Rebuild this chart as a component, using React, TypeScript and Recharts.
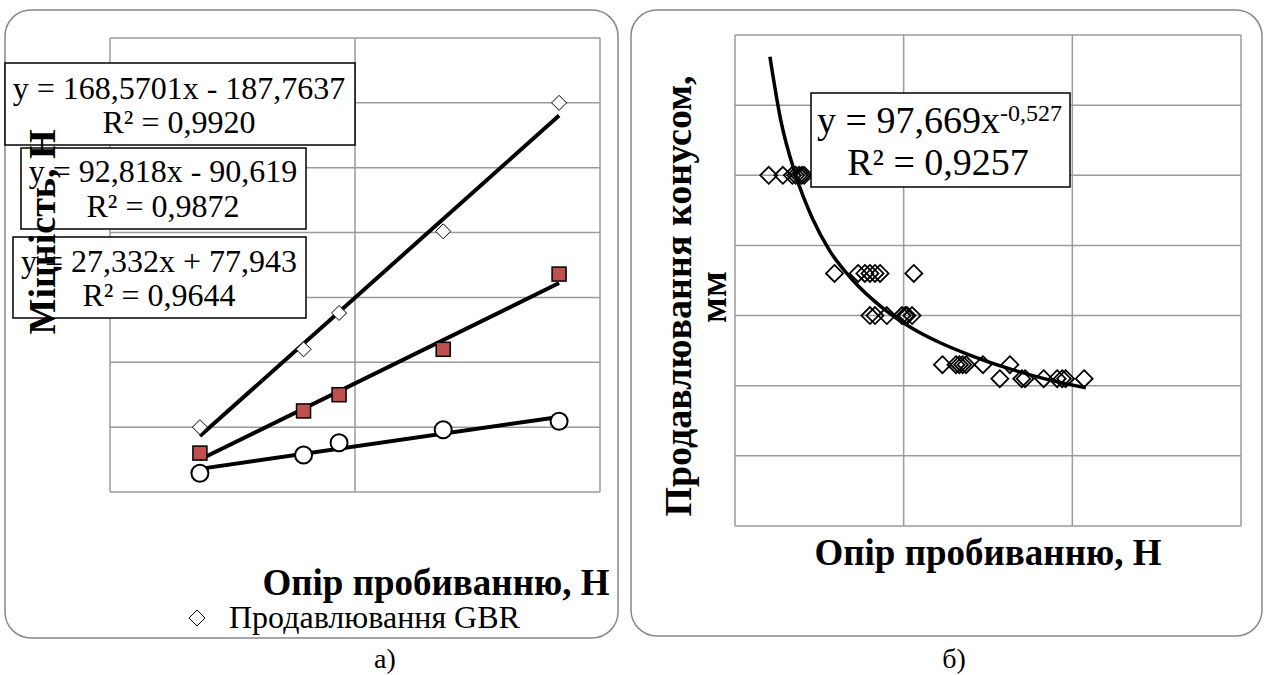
import React from "react";
import { CartesianGrid, ComposedChart, Line, Scatter, XAxis, YAxis } from "recharts";

const serif = '"Liberation Serif", "Times New Roman", serif';

// а) strength vs punching resistance
const strengthX = [3.67, 7.9, 9.35, 13.6, 18.33];
const gbrY = [500, 1100, 1380, 2010, 3000];
const redY = [300, 625, 750, 1100, 1680];
const circleY = [145, 285, 380, 480, 545];

// trend line ends (from the printed equations)
const trendX = [3.67, 18.33];
const gbrTrend = [430.9, 2902.1];
const redTrend = [250.0, 1610.7];
const circleTrend = [178.3, 578.9];

const leftXTicks = [0, 10, 20];
const leftYTicks = [0, 500, 1000, 1500, 2000, 2500, 3000, 3500];

// б) cone penetration vs punching resistance
const coneX = [
  2.0, 2.84, 3.4, 3.6, 3.8, 3.96, 4.1,
  5.9, 7.3, 7.7, 8.0, 8.3, 8.6, 10.6,
  8.0, 8.3, 9.0, 9.9, 10.1, 10.2, 10.5,
  12.3, 13.1, 13.3, 13.5, 13.7, 14.7, 16.3,
  15.7, 17.0, 17.2, 18.3, 19.1, 19.4, 19.6, 20.7,
];
const coneY = [
  50, 50, 50, 50, 50, 50, 50,
  36, 36, 36, 36, 36, 36, 36,
  30, 30, 30, 30, 30, 30, 30,
  23, 23, 23, 23, 23, 23, 23,
  21, 21, 21, 21, 21, 21, 21, 21,
];

// power trend curve
const curveX = [2.07, 2.7, 3.6, 4.6, 5.6, 7, 8.8, 10.5, 12.1, 14, 16.3, 18.5, 20.8];
const curveY = [66.9, 58, 50, 43.8, 39.3, 35, 31, 28.2, 26.2, 24.3, 22.4, 20.9, 19.7];

const rightXTicks = [0, 10, 20, 30];
const rightYTicks = [0, 10, 20, 30, 40, 50, 60, 70];

const pts = (xs: number[], ys: number[]) => xs.map((x, i) => ({ x, y: ys[i] }));

const diamond = (size: number, sw: number, fill: string) => (p: any) => {
  const h = size / 2;
  const { cx, cy } = p;
  return (
    <path
      d={`M${cx},${cy - h}L${cx + h},${cy}L${cx},${cy + h}L${cx - h},${cy}Z`}
      fill={fill}
      stroke="#000"
      strokeWidth={sw}
    />
  );
};

const square = (p: any) => (
  <rect x={p.cx - 7} y={p.cy - 7} width={14} height={14} fill="#C0504D" stroke="#000" strokeWidth={1.5} />
);

const circle = (p: any) => <circle cx={p.cx} cy={p.cy} r={8.5} fill="#fff" stroke="#000" strokeWidth={2} />;

const noTick = () => <g />;

const gridColor = "#9a9a9a";

const LeftChart = () => (
  <ComposedChart width={625} height={640} margin={{ top: 38, right: 25, bottom: 148, left: 110 }}>
    <CartesianGrid stroke={gridColor} strokeWidth={1.5} />
    <XAxis type="number" dataKey="x" domain={[0, 20]} ticks={leftXTicks} tick={noTick} tickLine={false} axisLine={false} height={0} />
    <YAxis type="number" dataKey="y" domain={[0, 3500]} ticks={leftYTicks} tick={noTick} tickLine={false} axisLine={false} width={0} />
    <Scatter data={pts(strengthX, gbrY)} shape={diamond(15, 1, "#fff")} isAnimationActive={false} />
    <Scatter data={pts(strengthX, redY)} shape={square} isAnimationActive={false} />
    <Scatter data={pts(strengthX, circleY)} shape={circle} isAnimationActive={false} />
    <Line data={pts(trendX, gbrTrend)} dataKey="y" type="linear" stroke="#000" strokeWidth={4} dot={false} isAnimationActive={false} />
    <Line data={pts(trendX, redTrend)} dataKey="y" type="linear" stroke="#000" strokeWidth={4} dot={false} isAnimationActive={false} />
    <Line data={pts(trendX, circleTrend)} dataKey="y" type="linear" stroke="#000" strokeWidth={4} dot={false} isAnimationActive={false} />
  </ComposedChart>
);

const RightChart = () => (
  <ComposedChart width={636} height={640} margin={{ top: 35, right: 25, bottom: 114, left: 105 }}>
    <CartesianGrid stroke={gridColor} strokeWidth={1.5} />
    <XAxis type="number" dataKey="x" domain={[0, 30]} ticks={rightXTicks} tick={noTick} tickLine={false} axisLine={false} height={0} />
    <YAxis type="number" dataKey="y" domain={[0, 70]} ticks={rightYTicks} tick={noTick} tickLine={false} axisLine={false} width={0} />
    <Scatter data={pts(coneX, coneY)} shape={diamond(17, 1.8, "none")} isAnimationActive={false} />
    <Line data={pts(curveX, curveY)} dataKey="y" type="monotone" stroke="#000" strokeWidth={3.5} dot={false} isAnimationActive={false} />
  </ComposedChart>
);

const EqBox = (props: { x: number; y: number; w: number; h: number; cx: number; l1: string; l2: string; b1: number; b2: number }) => (
  <g>
    <rect x={props.x} y={props.y} width={props.w} height={props.h} fill="#fff" stroke="#000" strokeWidth={1.5} />
    <text x={props.cx} y={props.b1} textAnchor="middle" fontSize={32}>{props.l1}</text>
    <text x={props.cx} y={props.b2} textAnchor="middle" fontSize={32}>{props.l2}</text>
  </g>
);

export default function App() {
  return (
    <div style={{ position: "absolute", left: 0, top: 0, width: 1266, height: 675, background: "#fff", fontFamily: serif }}>
      <div style={{ position: "absolute", left: 0, top: 0 }}>
        <LeftChart />
      </div>
      <div style={{ position: "absolute", left: 630, top: 0 }}>
        <RightChart />
      </div>
      <svg width={1266} height={675} style={{ position: "absolute", left: 0, top: 0, pointerEvents: "none" }} fontFamily={serif}>
        <rect x={5} y={10} width={613} height={628} rx={26} fill="none" stroke="#888" strokeWidth={1.5} />
        <rect x={631} y={10} width={631} height={626} rx={26} fill="none" stroke="#888" strokeWidth={1.5} />

        <EqBox x={5} y={63} w={350} h={82} cx={179} l1="y = 168,5701x - 187,7637" l2="R² = 0,9920" b1={99} b2={133} />
        <EqBox x={21} y={148} w={285} h={81} cx={163} l1="y = 92,818x - 90,619" l2="R² = 0,9872" b1={182} b2={217} />
        <EqBox x={13} y={237} w={293} h={81} cx={159} l1="y = 27,332x + 77,943" l2="R² = 0,9644" b1={272} b2={306} />

        <text x={55} y={232} transform="rotate(-90, 55, 232)" textAnchor="middle" fontSize={38} fontWeight="bold">Міцність, Н</text>
        <text x={436} y={595} textAnchor="middle" fontSize={37} fontWeight="bold">Опір пробиванню, Н</text>
        <path d="M197,610L205,618L197,626L189,618Z" fill="#fff" stroke="#000" strokeWidth={1} />
        <text x={229} y={628} fontSize={32}>Продавлювання GBR</text>
        <text x={385} y={668} textAnchor="middle" fontSize={28}>а)</text>

        <rect x={811} y={93} width={259} height={94} fill="#fff" stroke="#000" strokeWidth={1.5} />
        <text x={817} y={133} fontSize={38}>
          y = 97,669x<tspan fontSize={24} dy={-12}>-0,527</tspan>
        </text>
        <text x={938} y={175} textAnchor="middle" fontSize={38}>R² = 0,9257</text>

        <text x={691} y={296} transform="rotate(-90, 691, 296)" textAnchor="middle" fontSize={38} fontWeight="bold">Продавлювання конусом,</text>
        <text x={726} y={297} transform="rotate(-90, 726, 297)" textAnchor="middle" fontSize={38} fontWeight="bold">мм</text>
        <text x={988} y={565} textAnchor="middle" fontSize={37} fontWeight="bold">Опір пробиванню, Н</text>
        <text x={954} y={668} textAnchor="middle" fontSize={28}>б)</text>
      </svg>
    </div>
  );
}
